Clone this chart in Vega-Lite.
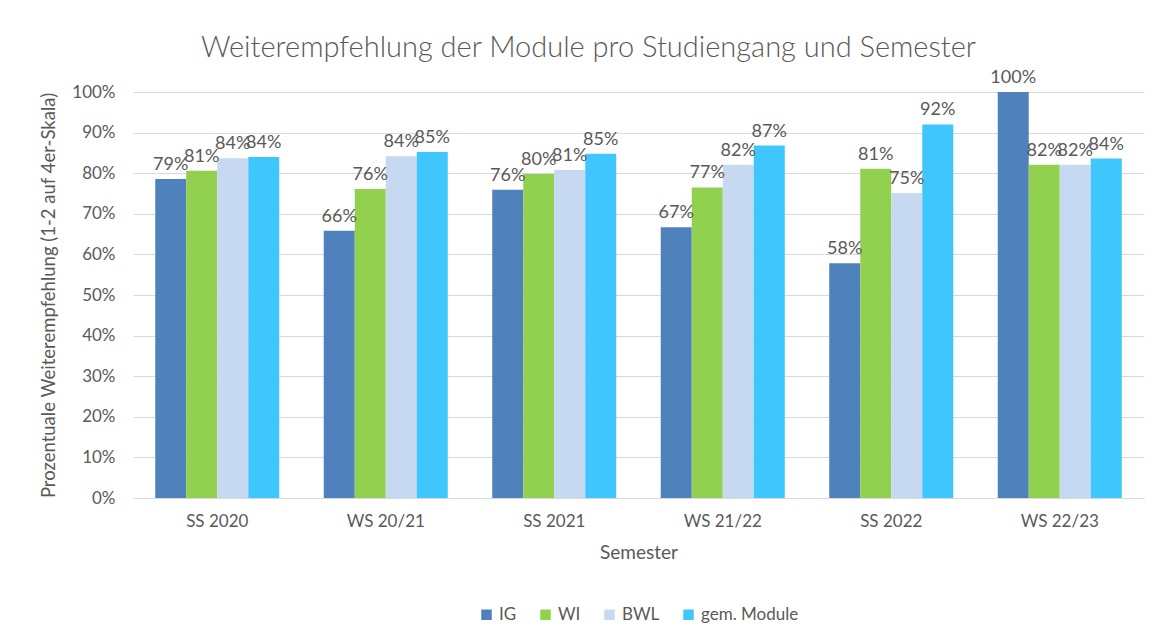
{
  "$schema": "https://vega.github.io/schema/vega-lite/v6.json",
  "autosize": "none",
  "width": 1011,
  "height": 406,
  "padding": {"left": 133, "top": 92, "right": 13, "bottom": 142},
  "background": "white",
  "title": {
    "text": "Weiterempfehlung der Module pro Studiengang und Semester",
    "font": "Lato",
    "fontSize": 29,
    "fontWeight": 300,
    "color": "#595959",
    "anchor": "middle",
    "dx": -50,
    "offset": 6
  },
  "data": {
    "values": [
      {"Semester": "SS 2020", "Studiengang": "IG", "Wert": 0.786},
      {"Semester": "SS 2020", "Studiengang": "WI", "Wert": 0.806},
      {"Semester": "SS 2020", "Studiengang": "BWL", "Wert": 0.837},
      {"Semester": "SS 2020", "Studiengang": "gem. Module", "Wert": 0.840},
      {"Semester": "WS 20/21", "Studiengang": "IG", "Wert": 0.658},
      {"Semester": "WS 20/21", "Studiengang": "WI", "Wert": 0.761},
      {"Semester": "WS 20/21", "Studiengang": "BWL", "Wert": 0.842},
      {"Semester": "WS 20/21", "Studiengang": "gem. Module", "Wert": 0.852},
      {"Semester": "SS 2021", "Studiengang": "IG", "Wert": 0.759},
      {"Semester": "SS 2021", "Studiengang": "WI", "Wert": 0.798},
      {"Semester": "SS 2021", "Studiengang": "BWL", "Wert": 0.808},
      {"Semester": "SS 2021", "Studiengang": "gem. Module", "Wert": 0.848},
      {"Semester": "WS 21/22", "Studiengang": "IG", "Wert": 0.667},
      {"Semester": "WS 21/22", "Studiengang": "WI", "Wert": 0.765},
      {"Semester": "WS 21/22", "Studiengang": "BWL", "Wert": 0.821},
      {"Semester": "WS 21/22", "Studiengang": "gem. Module", "Wert": 0.868},
      {"Semester": "SS 2022", "Studiengang": "IG", "Wert": 0.578},
      {"Semester": "SS 2022", "Studiengang": "WI", "Wert": 0.811},
      {"Semester": "SS 2022", "Studiengang": "BWL", "Wert": 0.751},
      {"Semester": "SS 2022", "Studiengang": "gem. Module", "Wert": 0.920},
      {"Semester": "WS 22/23", "Studiengang": "IG", "Wert": 1.0},
      {"Semester": "WS 22/23", "Studiengang": "WI", "Wert": 0.821},
      {"Semester": "WS 22/23", "Studiengang": "BWL", "Wert": 0.821},
      {"Semester": "WS 22/23", "Studiengang": "gem. Module", "Wert": 0.836}
    ]
  },
  "encoding": {
    "x": {
      "field": "Semester",
      "type": "nominal",
      "sort": ["SS 2020", "WS 20/21", "SS 2021", "WS 21/22", "SS 2022", "WS 22/23"],
      "scale": {"paddingInner": 0.264, "paddingOuter": 0.132},
      "axis": {
        "title": "Semester",
        "labelAngle": 0,
        "ticks": false,
        "domainColor": "#d9d9d9",
        "labelPadding": 15,
        "titlePadding": 14,
        "labelFont": "Lato",
        "labelFontSize": 17,
        "labelColor": "#595959",
        "titleFont": "Lato",
        "titleFontSize": 19,
        "titleFontWeight": "normal",
        "titleColor": "#595959"
      }
    },
    "xOffset": {
      "field": "Studiengang",
      "type": "nominal",
      "sort": ["IG", "WI", "BWL", "gem. Module"],
      "scale": {"paddingInner": 0, "paddingOuter": 0}
    },
    "y": {
      "field": "Wert",
      "type": "quantitative",
      "scale": {"domain": [0, 1], "nice": false},
      "axis": {
        "title": "Prozentuale Weiterempfehlung (1-2 auf 4er-Skala)",
        "format": ".0%",
        "values": [0, 0.1, 0.2, 0.3, 0.4, 0.5, 0.6, 0.7, 0.8, 0.9, 1.0],
        "domain": false,
        "ticks": false,
        "gridColor": "#d9d9d9",
        "gridWidth": 1,
        "labelPadding": 18,
        "titlePadding": 13,
        "labelFont": "Lato",
        "labelFontSize": 17,
        "labelColor": "#595959",
        "titleFont": "Lato",
        "titleFontSize": 18.5,
        "titleFontWeight": "normal",
        "titleColor": "#595959"
      }
    },
    "color": {
      "field": "Studiengang",
      "type": "nominal",
      "sort": ["IG", "WI", "BWL", "gem. Module"],
      "scale": {
        "domain": ["IG", "WI", "BWL", "gem. Module"],
        "range": ["#4f81bd", "#92d050", "#c6d9f0", "#3fc7fd"]
      },
      "legend": {
        "title": null,
        "orient": "bottom",
        "direction": "horizontal",
        "symbolType": "square",
        "symbolSize": 110,
        "symbolStrokeWidth": 0,
        "symbolOpacity": 1,
        "labelFont": "Lato",
        "labelFontSize": 17,
        "labelColor": "#595959",
        "columnPadding": 20,
        "offset": 44
      }
    }
  },
  "layer": [
    {"mark": {"type": "bar"}},
    {
      "mark": {"type": "text", "baseline": "bottom", "dy": -5, "font": "Lato", "fontSize": 18, "color": "#595959"},
      "encoding": {
        "text": {"field": "Wert", "type": "quantitative", "format": ".0%"},
        "color": {"value": "#595959"}
      }
    }
  ],
  "config": {
    "view": {"stroke": null},
    "legend": {"layout": {"bottom": {"anchor": "middle"}}}
  }
}
